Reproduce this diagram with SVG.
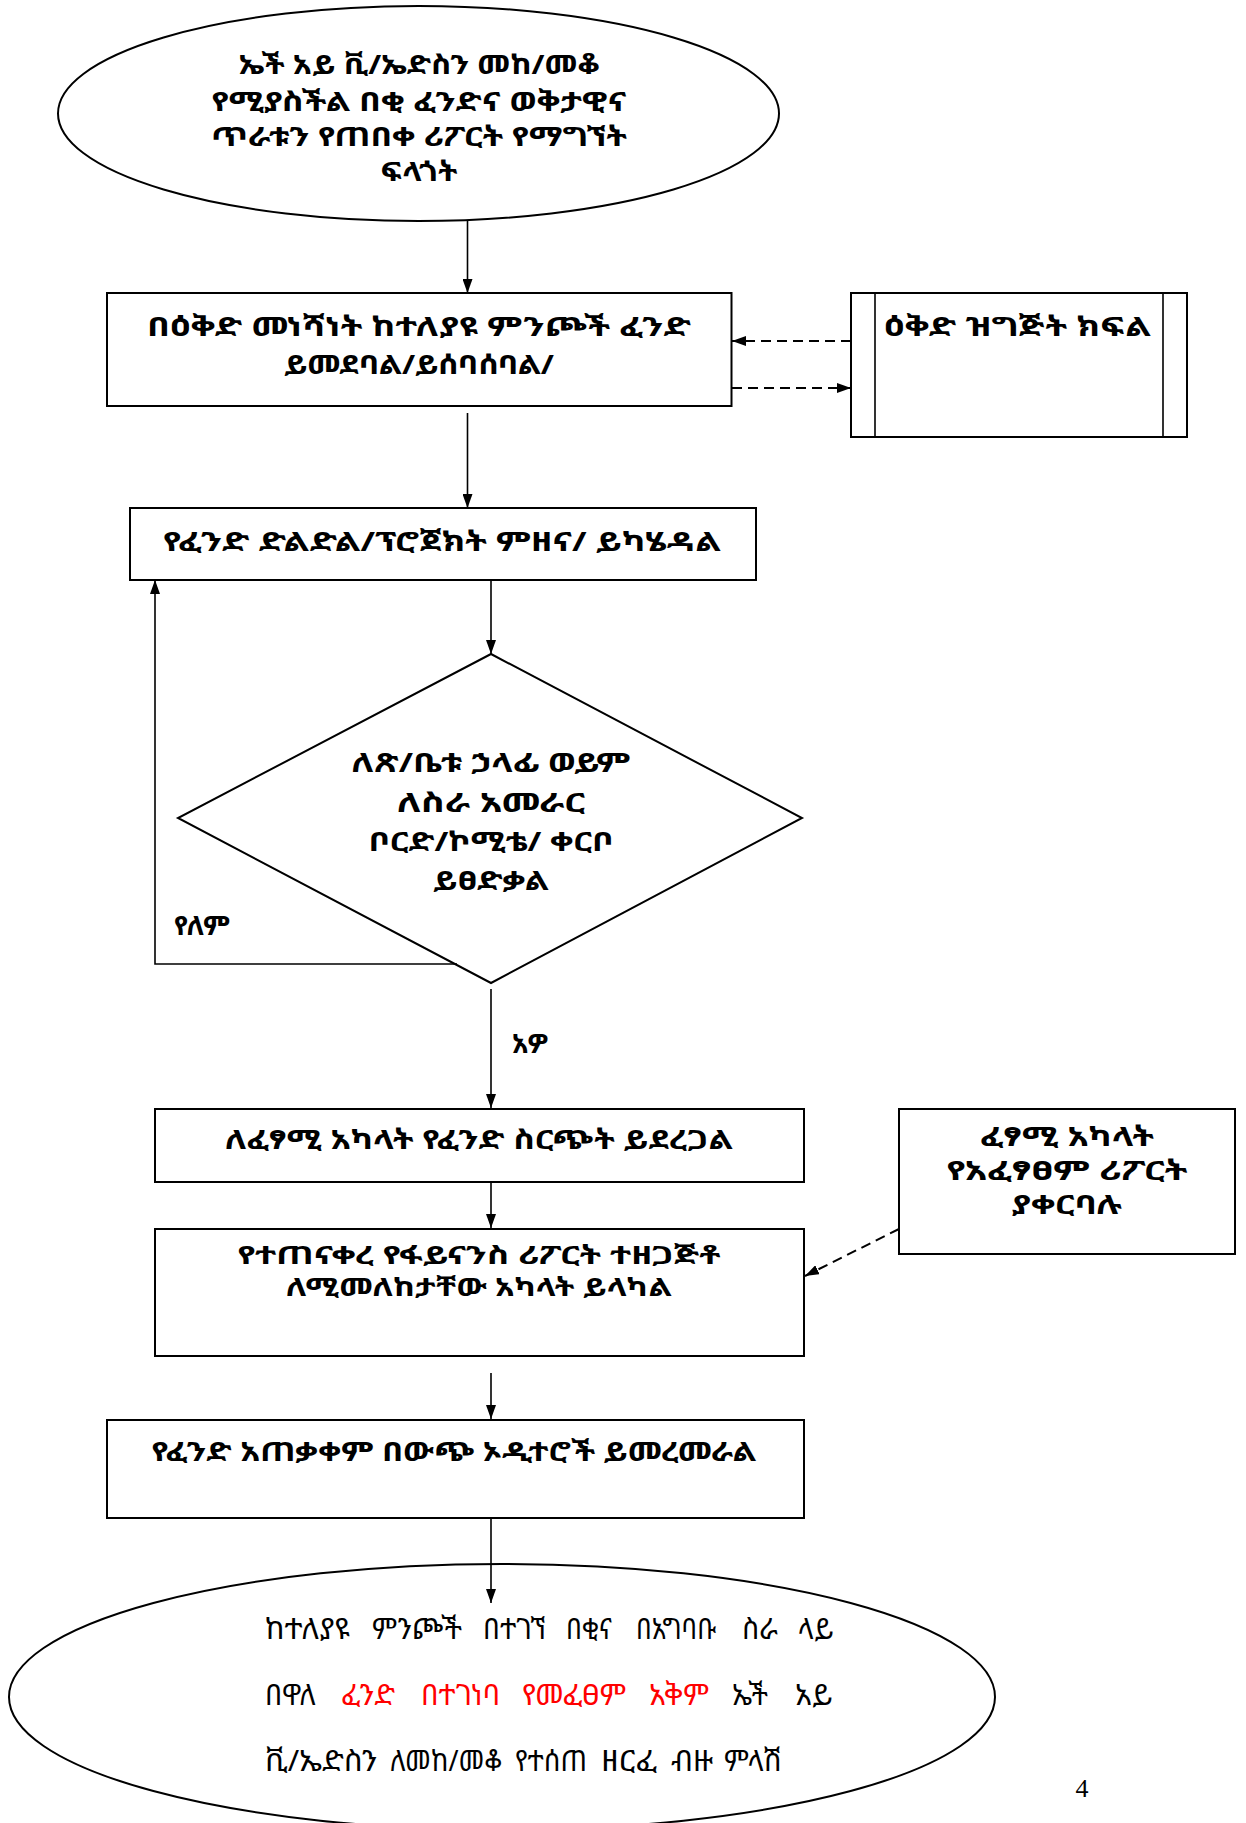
<svg xmlns="http://www.w3.org/2000/svg" width="1246" height="1823" viewBox="0 0 1246 1823">
<style>
.bg{fill:#ffffff}
.shape{fill:#ffffff;stroke:#000000;stroke-width:2}
.line{fill:none;stroke:#000000;stroke-width:1.6}
.dash{fill:none;stroke:#000000;stroke-width:2;stroke-dasharray:10 6}
.t{font-family:"Noto Sans Ethiopic","Abyssinica SIL","FreeSerif","DejaVu Sans",sans-serif;font-size:27px;font-weight:bold;fill:#000000}
.c{text-anchor:middle}
.n{font-weight:normal;font-size:29px}
.s{font-size:25px}
.red{fill:#ff0000}
.pg{font-family:"Liberation Serif",serif;font-size:26px;fill:#000000}
</style>
<defs>
<marker id="arr" viewBox="0 0 14 10" refX="14" refY="5" markerWidth="14" markerHeight="10" markerUnits="userSpaceOnUse" orient="auto">
<path d="M0,0 L14,5 L0,10 z" fill="#000000"/>
</marker>
</defs>
<rect class="bg" x="0" y="0" width="1246" height="1823"/>

<g id="start">
<ellipse class="shape" cx="418.5" cy="113.5" rx="360.5" ry="107.5"/>
<text class="t c" x="419" y="74" textLength="361" lengthAdjust="spacingAndGlyphs">ኤች አይ ቪ/ኤድስን መከ/መቆ</text>
<text class="t c" x="419" y="111" textLength="415" lengthAdjust="spacingAndGlyphs">የሚያስችል በቂ ፈንድና ወቅታዊና</text>
<text class="t c" x="419" y="146" textLength="416" lengthAdjust="spacingAndGlyphs">ጥራቱን የጠበቀ ሪፖርት የማግኘት</text>
<text class="t c" x="419" y="181" textLength="77" lengthAdjust="spacingAndGlyphs">ፍላጎት</text>
</g>

<g id="allocate">
<rect class="shape" x="107" y="293" width="624.5" height="113"/>
<text class="t c" x="419" y="336" textLength="544" lengthAdjust="spacingAndGlyphs">በዕቅድ መነሻነት ከተለያዩ ምንጮች ፈንድ</text>
<text class="t c" x="419" y="374" textLength="270" lengthAdjust="spacingAndGlyphs">ይመደባል/ይሰባሰባል/</text>
</g>

<g id="planning">
<rect class="shape" x="851" y="293" width="336" height="144"/>
<path class="line" d="M875,293 V437 M1163,293 V437"/>
<text class="t" x="884" y="336" textLength="267" lengthAdjust="spacingAndGlyphs">ዕቅድ ዝግጅት ክፍል</text>
</g>

<g id="assess">
<rect class="shape" x="130" y="508" width="626" height="72"/>
<text class="t c" x="442" y="551" textLength="558" lengthAdjust="spacingAndGlyphs">የፈንድ ድልድል/ፕሮጀክት ምዘና/ ይካሄዳል</text>
</g>

<g id="decision">
<path class="shape" d="M491,654 L802,818 L491,983 L178,818 Z"/>
<text class="t c" x="491" y="772" textLength="279" lengthAdjust="spacingAndGlyphs">ለጽ/ቤቱ ኃላፊ ወይም</text>
<text class="t c" x="491" y="812" textLength="188" lengthAdjust="spacingAndGlyphs">ለስራ አመራር</text>
<text class="t c" x="491" y="851" textLength="245" lengthAdjust="spacingAndGlyphs">ቦርድ/ኮሚቴ/ ቀርቦ</text>
<text class="t c" x="491" y="890" textLength="116" lengthAdjust="spacingAndGlyphs">ይፀድቃል</text>
</g>

<g id="distribute">
<rect class="shape" x="155" y="1109" width="649" height="73"/>
<text class="t c" x="479" y="1149" textLength="508" lengthAdjust="spacingAndGlyphs">ለፈፃሚ አካላት የፈንድ ስርጭት ይደረጋል</text>
</g>

<g id="implementers">
<rect class="shape" x="899" y="1109" width="336" height="145"/>
<text class="t c" x="1067" y="1146" textLength="174" lengthAdjust="spacingAndGlyphs">ፈፃሚ አካላት</text>
<text class="t c" x="1067" y="1180" textLength="241" lengthAdjust="spacingAndGlyphs">የአፈፃፀም ሪፖርት</text>
<text class="t c" x="1067" y="1214" textLength="110" lengthAdjust="spacingAndGlyphs">ያቀርባሉ</text>
</g>

<g id="report">
<rect class="shape" x="155" y="1229" width="649" height="127"/>
<text class="t c s" x="479" y="1264" textLength="483" lengthAdjust="spacingAndGlyphs">የተጠናቀረ የፋይናንስ ሪፖርት ተዘጋጅቶ</text>
<text class="t c s" x="479" y="1296" textLength="386" lengthAdjust="spacingAndGlyphs">ለሚመለከታቸው አካላት ይላካል</text>
</g>

<g id="audit">
<rect class="shape" x="107" y="1420" width="697" height="98"/>
<text class="t c" x="454" y="1461" textLength="605" lengthAdjust="spacingAndGlyphs">የፈንድ አጠቃቀም በውጭ ኦዲተሮች ይመረመራል</text>
</g>

<g id="outcome">
<ellipse class="shape" cx="502" cy="1697" rx="493" ry="133"/>
<text class="t n" x="265" y="1639" textLength="85" lengthAdjust="spacingAndGlyphs">ከተለያዩ</text>
<text class="t n" x="372" y="1639" textLength="90" lengthAdjust="spacingAndGlyphs">ምንጮች</text>
<text class="t n" x="483" y="1639" textLength="63" lengthAdjust="spacingAndGlyphs">በተገኘ</text>
<text class="t n" x="566" y="1639" textLength="46" lengthAdjust="spacingAndGlyphs">በቂና</text>
<text class="t n" x="636" y="1639" textLength="80" lengthAdjust="spacingAndGlyphs">በአግባቡ</text>
<text class="t n" x="742" y="1639" textLength="36" lengthAdjust="spacingAndGlyphs">ስራ</text>
<text class="t n" x="798" y="1639" textLength="36" lengthAdjust="spacingAndGlyphs">ላይ</text>
<text class="t n" x="265" y="1705" textLength="51" lengthAdjust="spacingAndGlyphs">በዋለ</text>
<text class="t n red" x="341" y="1705" textLength="54" lengthAdjust="spacingAndGlyphs">ፈንድ</text>
<text class="t n red" x="421" y="1705" textLength="79" lengthAdjust="spacingAndGlyphs">በተገነባ</text>
<text class="t n red" x="522" y="1705" textLength="104" lengthAdjust="spacingAndGlyphs">የመፈፀም</text>
<text class="t n red" x="649" y="1705" textLength="60" lengthAdjust="spacingAndGlyphs">አቅም</text>
<text class="t n" x="732" y="1705" textLength="36" lengthAdjust="spacingAndGlyphs">ኤች</text>
<text class="t n" x="795" y="1705" textLength="38" lengthAdjust="spacingAndGlyphs">አይ</text>
<text class="t n" x="265" y="1771" textLength="112" lengthAdjust="spacingAndGlyphs">ቪ/ኤድስን</text>
<text class="t n" x="390" y="1771" textLength="112" lengthAdjust="spacingAndGlyphs">ለመከ/መቆ</text>
<text class="t n" x="515" y="1771" textLength="72" lengthAdjust="spacingAndGlyphs">የተሰጠ</text>
<text class="t n" x="601" y="1771" textLength="56" lengthAdjust="spacingAndGlyphs">ዘርፈ</text>
<text class="t n" x="671" y="1771" textLength="42" lengthAdjust="spacingAndGlyphs">ብዙ</text>
<text class="t n" x="724" y="1771" textLength="58" lengthAdjust="spacingAndGlyphs">ምላሽ</text>
</g>

<g id="connectors">
<path class="line" d="M467.5,221 V293" marker-end="url(#arr)"/>
<path class="line" d="M467.5,413 V508" marker-end="url(#arr)"/>
<path class="line" d="M491,580 V654" marker-end="url(#arr)"/>
<path class="line" d="M457,964 H155 V580" marker-end="url(#arr)"/>
<path class="line" d="M491,989 V1108" marker-end="url(#arr)"/>
<path class="line" d="M491,1182 V1228" marker-end="url(#arr)"/>
<path class="line" d="M491,1373 V1419" marker-end="url(#arr)"/>
<path class="line" d="M491,1518 V1603" marker-end="url(#arr)"/>
<path class="dash" d="M851,341 H732" marker-end="url(#arr)"/>
<path class="dash" d="M732,388 H851" marker-end="url(#arr)"/>
<path class="dash" d="M899,1229 L805,1276" marker-end="url(#arr)"/>
<text class="t" x="174" y="935">የለም</text>
<text class="t" x="512" y="1053">አዎ</text>
</g>

<text class="pg" x="1082" y="1797" text-anchor="middle">4</text>
</svg>
